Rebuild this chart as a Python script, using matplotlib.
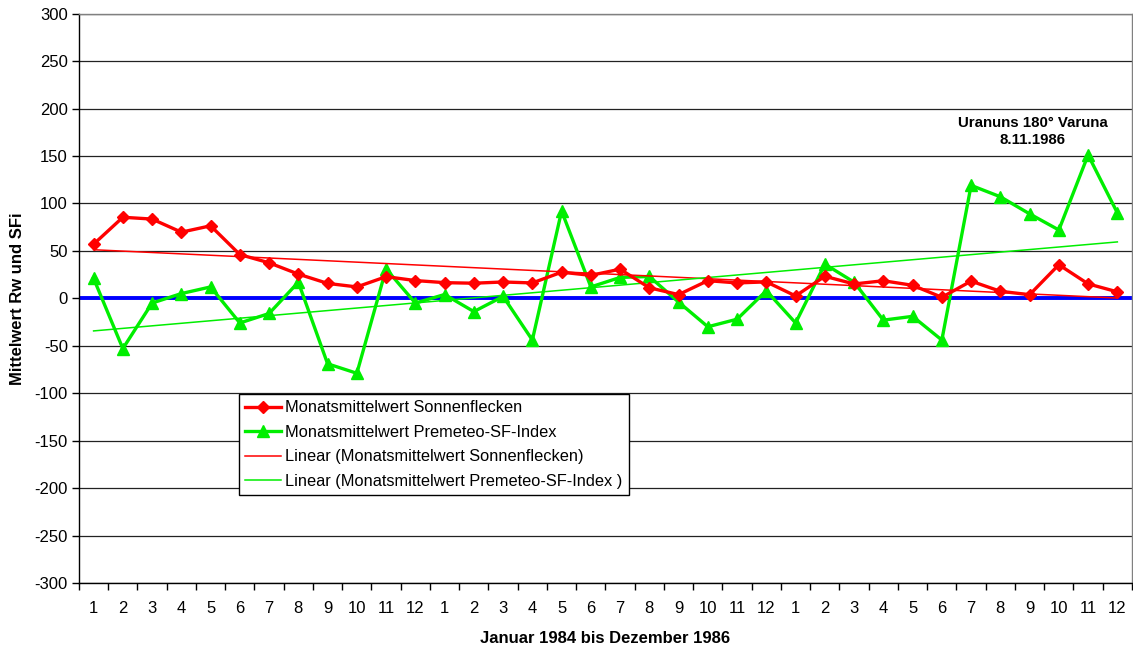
import numpy as np
import matplotlib
matplotlib.use("Agg")
import matplotlib.pyplot as plt

# Monatswerte Januar 1984 bis Dezember 1986
month_labels = [str(m) for m in range(1, 13)] * 3
sonnenflecken = [57.0, 85.4, 83.5, 69.7, 76.4, 46.1, 37.4, 25.5, 15.7, 12.0, 22.8, 18.7,
                 16.5, 15.9, 17.2, 16.2, 27.5, 24.2, 30.7, 11.1, 3.9, 18.6, 16.2, 17.3,
                 2.5, 23.2, 15.1, 18.5, 13.7, 1.1, 18.1, 7.4, 3.8, 35.4, 15.2, 6.8]
sf_index = [21, -53, -5, 5, 12, -26, -16, 17, -69, -79, 31, -5,
            4, -14, 2, -44, 92, 12, 22, 23, -4, -30, -22, 8,
            -26, 36, 17, -23, -19, -44, 119, 107, 89, 72, 151, 90]

plt.rcParams['font.family'] = ['Liberation Sans', 'DejaVu Sans']
plt.rcParams['axes.unicode_minus'] = False

x = np.arange(1, len(sonnenflecken) + 1)

fig = plt.figure(figsize=(11.33, 6.48), dpi=100)
ax = fig.add_axes([0.0697, 0.1003, 0.9294, 0.8787])

ax.set_ylim(-300, 300)
ax.set_xlim(0.5, len(x) + 0.5)
ax.set_yticks(np.arange(-300, 301, 50))
ax.grid(axis='y', color='#222222', linewidth=0.9)
ax.set_axisbelow(True)

ax.axhline(0, color='#0000ff', linewidth=2.8, zorder=2)

# Trendlinien (linear)
red_fit = np.polyfit(x, sonnenflecken, 1)
green_fit = np.polyfit(x, sf_index, 1)

ax.plot(x, sonnenflecken, color='#ff0000', linewidth=2.4, marker='D', markersize=6,
        label='Monatsmittelwert Sonnenflecken', zorder=4)
ax.plot(x, sf_index, color='#00ee00', linewidth=2.4, marker='^', markersize=8,
        label='Monatsmittelwert Premeteo-SF-Index', zorder=3)
ax.plot(x, np.polyval(red_fit, x), color='#ff0000', linewidth=1.1,
        label='Linear (Monatsmittelwert Sonnenflecken)', zorder=3)
ax.plot(x, np.polyval(green_fit, x), color='#00ee00', linewidth=1.1,
        label='Linear (Monatsmittelwert Premeteo-SF-Index )', zorder=3)

ax.annotate('Uranuns 180° Varuna\n8.11.1986', xy=(33.1, 176), ha='center', va='center',
            fontsize=10.8, fontweight='bold', linespacing=1.3)

# Ticks zwischen den Kategorien, Beschriftung in der Mitte
ax.set_xticks(np.arange(0.5, len(x) + 1, 1))
ax.set_xticklabels([])
ax.set_xticks(x, minor=True)
ax.set_xticklabels(month_labels, minor=True)
ax.tick_params(axis='x', which='major', direction='out', length=5, width=1)
ax.tick_params(axis='x', which='minor', length=0, pad=13, labelsize=12)
ax.tick_params(axis='y', direction='out', length=5, width=1, pad=3, labelsize=12)

for s in ['left', 'bottom']:
    ax.spines[s].set_color('black')
    ax.spines[s].set_linewidth(1)
for s in ['top', 'right']:
    ax.spines[s].set_color('#808080')
    ax.spines[s].set_linewidth(1)

ax.set_xlabel('Januar 1984 bis Dezember 1986', fontsize=12, fontweight='bold', labelpad=11)
ax.set_ylabel('Mittelwert Rw und SFi', fontsize=12, fontweight='bold', labelpad=7)

leg = ax.legend(loc='upper left', bbox_to_anchor=(0.1518, 0.332), fontsize=11.75,
                frameon=True, fancybox=False, edgecolor='black', framealpha=1,
                handlelength=2.2, handletextpad=0.25, borderpad=0.4, labelspacing=0.58,
                borderaxespad=0)
leg.get_frame().set_linewidth(1)

fig.savefig('out.png', dpi=100)
